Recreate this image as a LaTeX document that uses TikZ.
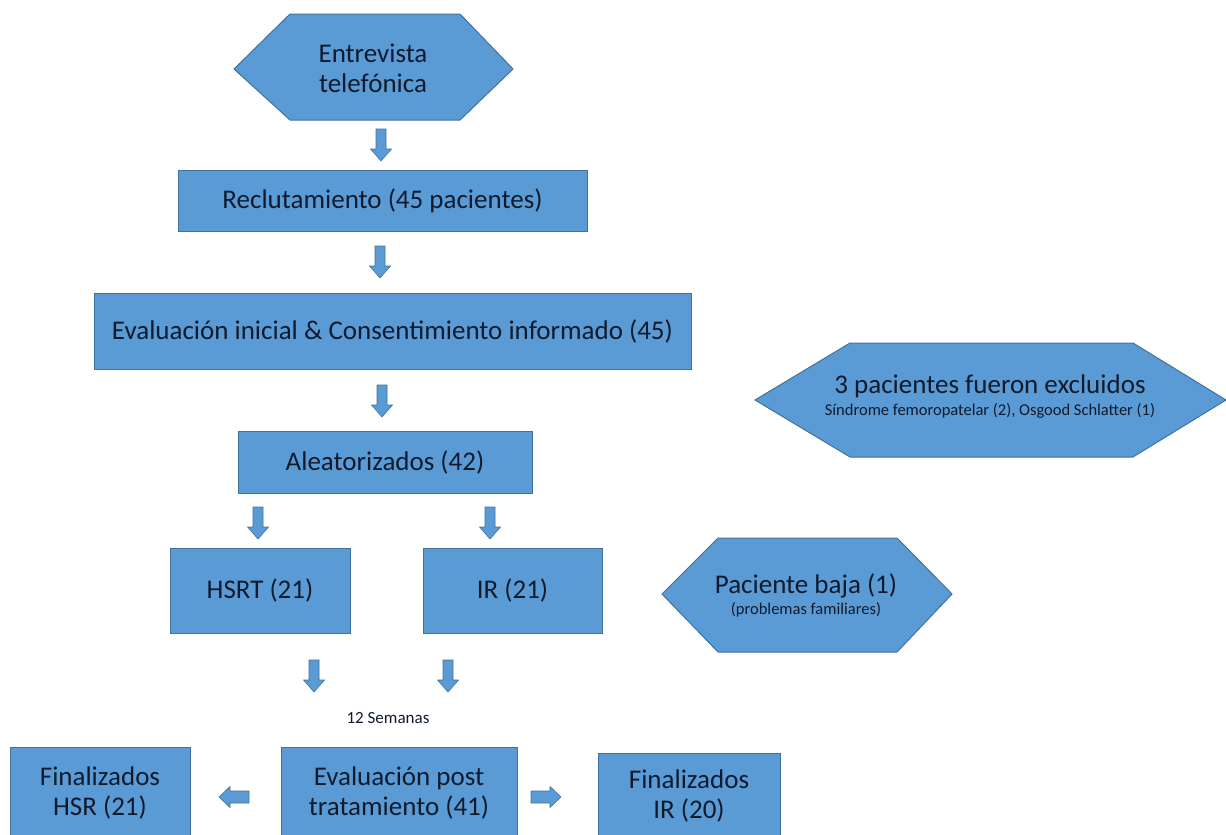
\documentclass[tikz,border=0pt]{standalone}
\usepackage{fontspec}
\setmainfont{Carlito}
\definecolor{boxfill}{HTML}{5B9BD5}
\definecolor{boxline}{HTML}{41719C}
\definecolor{ink}{HTML}{0F1B2D}
\tikzset{
  stage/.style={draw=boxline, line width=1pt, fill=boxfill, text=ink,
    inner sep=0pt, align=center, font=\fontsize{27}{30}\selectfont},
  hexshape/.style={draw=boxline, line width=1pt, fill=boxfill},
  hextext/.style={text=ink, align=center, inner sep=0pt},
  big/.style={font=\fontsize{27}{30}\selectfont},
  small/.style={font=\fontsize{16.5}{18}\selectfont},
  arrowbody/.style={draw=boxline, line width=0.6pt, fill=boxfill, line join=miter},
}
% block arrow pointing down, centred at (#1,#2)
\newcommand\downblock[2]{%
  \path[arrowbody] (#1-5,#2-16) -- (#1+5,#2-16) -- (#1+5,#2+4) -- (#1+10.5,#2+4)
    -- (#1,#2+16) -- (#1-10.5,#2+4) -- (#1-5,#2+4) -- cycle;}
% block arrow pointing left / right, centred at (#1,#2)
\newcommand\leftblock[2]{%
  \path[arrowbody] (#1+15,#2-6) -- (#1+15,#2+6) -- (#1-4,#2+6) -- (#1-4,#2+10.5)
    -- (#1-15,#2) -- (#1-4,#2-10.5) -- (#1-4,#2-6) -- cycle;}
\newcommand\rightblock[2]{%
  \path[arrowbody] (#1-15,#2-6) -- (#1-15,#2+6) -- (#1+4,#2+6) -- (#1+4,#2+10.5)
    -- (#1+15,#2) -- (#1+4,#2-10.5) -- (#1+4,#2-6) -- cycle;}
\begin{document}
\begin{tikzpicture}[x=1pt, y=-1pt]
\useasboundingbox (0,0) rectangle (1226,835);
\clip (0,0) rectangle (1226,835);

% phone interview (hexagon)
\path[hexshape] (234,69) -- (290,14) -- (460,14) -- (513,69) -- (460,120) -- (290,120) -- cycle;
\node[hextext, big] (phone) at (373,68) {Entrevista\\telefónica};

% main column of stages
\node[stage, minimum width=409pt, minimum height=61pt] (rec) at (382.5,200.5) {Reclutamiento (45 pacientes)};
\node[stage, minimum width=597pt, minimum height=76pt] (eval) at (392.5,331) {Evaluación inicial \& Consentimiento informado (45)};
\node[stage, minimum width=294pt, minimum height=62pt] (rand) at (385,462) {Aleatorizados (42)};
\node[stage, minimum width=180pt, minimum height=85pt] (hsrt) at (260,590.5) {HSRT (21)};
\node[stage, minimum width=179pt, minimum height=85pt] (ir) at (512.5,590.5) {IR (21)};

% exclusions (hexagon)
\path[hexshape] (755,400) -- (850,343) -- (1133,343) -- (1226,400) -- (1133,457) -- (850,457) -- cycle;
\node[hextext, big] (excl) at (990,386) {3 pacientes fueron excluidos};
\node[hextext, small] (exclwhy) at (990,411) {Síndrome femoropatelar (2), Osgood Schlatter (1)};

% drop-out (hexagon)
\path[hexshape] (662,594) -- (718,538) -- (897,538) -- (952,594) -- (897,652) -- (718,652) -- cycle;
\node[hextext, big] (drop) at (806,586) {Paciente baja (1)};
\node[hextext, small] (dropwhy) at (806,610) {(problemas familiares)};

% block arrows between stages
\downblock{381}{145}
\downblock{380}{262}
\downblock{382}{401}
\downblock{258}{523}
\downblock{490}{523}
\downblock{314}{676}
\downblock{448}{676}

\node[text=ink, font=\fontsize{17}{19}\selectfont] (weeks) at (388,718) {12 Semanas};

% final row
\node[stage, minimum width=180pt, minimum height=91pt] (finh) at (100,792.5) {Finalizados\\HSR (21)};
\node[stage, minimum width=236pt, minimum height=91pt] (post) at (399,792.5) {Evaluación post\\tratamiento (41)};
\node[stage, minimum width=182pt, minimum height=85pt] (fini) at (689,795.5) {Finalizados\\IR (20)};

\leftblock{234}{797}
\rightblock{546}{797}
\end{tikzpicture}
\end{document}
